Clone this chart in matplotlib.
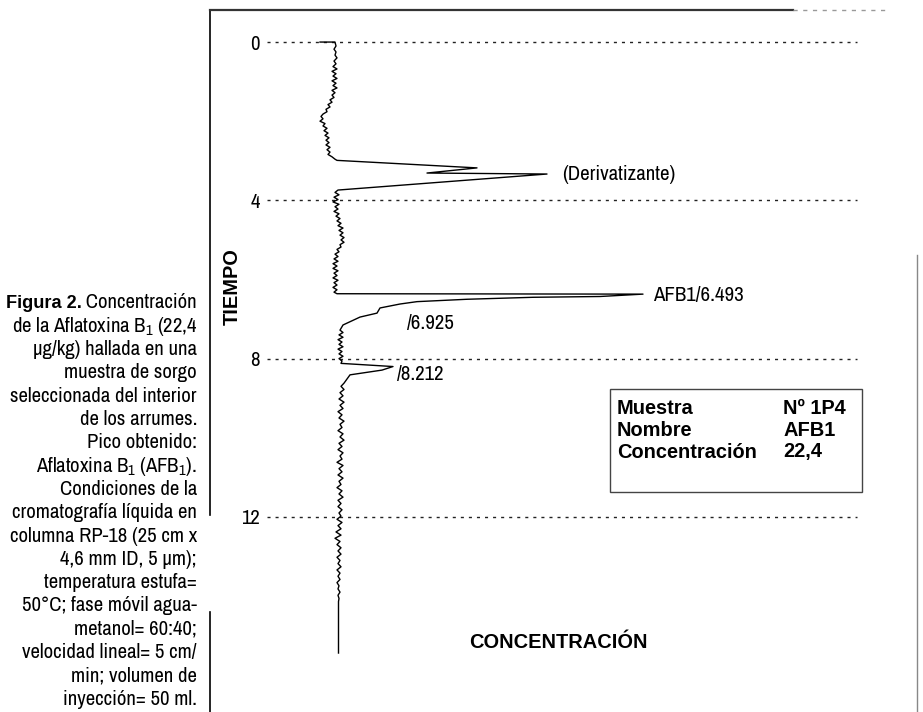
import matplotlib
matplotlib.use('Agg')
import matplotlib.pyplot as plt
from matplotlib import font_manager
from matplotlib.patches import Rectangle

# buscar una fuente estrecha entre las instaladas
fuentes = font_manager.fontManager.ttflist
nombres = {f.name for f in fuentes}
estrecha = [n for n in sorted(nombres) if 'Narrow' in n or 'Condensed' in n]
estirar = 'normal'
if 'Liberation Sans Narrow' in nombres:
    fuente = 'Liberation Sans Narrow'
elif estrecha:
    fuente = estrecha[0]
elif any(f.name == 'DejaVu Sans' and f.stretch == 'condensed' for f in fuentes):
    fuente = 'DejaVu Sans'
    estirar = 'condensed'
elif 'Liberation Sans' in nombres:
    fuente = 'Liberation Sans'
else:
    fuente = 'DejaVu Sans'


def es_negrita(f):
    w = f.weight
    if isinstance(w, str):
        return w in ('bold', 'semibold', 'demibold', 'heavy', 'extra bold', 'black')
    return w >= 600


# la negrita: misma familia si la tiene, si no Liberation Sans
if any(f.name == fuente and es_negrita(f) for f in fuentes):
    fuente_negrita = fuente
elif 'Liberation Sans' in nombres:
    fuente_negrita = 'Liberation Sans'
else:
    fuente_negrita = 'DejaVu Sans'

plt.rcParams['font.family'] = [fuente, 'DejaVu Sans']
plt.rcParams['font.stretch'] = estirar
plt.rcParams['mathtext.fontset'] = 'custom'
plt.rcParams['mathtext.rm'] = fuente
plt.rcParams['mathtext.it'] = fuente

# datos del cromatograma (tiempo en min, señal en unidades arbitrarias)
tiempo = [
    0.00, 0.00, 0.10, 0.18, 0.25, 0.33, 0.40, 0.48, 0.55, 0.62, 0.68, 0.74,
    0.80, 0.86, 0.92, 0.98, 1.04, 1.10, 1.16, 1.22, 1.28, 1.34, 1.40, 1.46,
    1.52, 1.58, 1.64, 1.70, 1.76, 1.82, 1.88, 1.94, 2.00, 2.06, 2.12, 2.18,
    2.24, 2.30, 2.36, 2.42, 2.48, 2.54, 2.60, 2.66, 2.72, 2.78, 2.84, 2.90,
    2.96, 2.99,
    # derivatizante
    3.18, 3.31, 3.335, 3.74,
    3.80, 3.86, 3.92, 3.98, 4.04, 4.10, 4.16, 4.22, 4.28, 4.34, 4.40, 4.46,
    4.52, 4.58, 4.64, 4.70, 4.76, 4.82, 4.88, 4.94, 5.00, 5.06, 5.12, 5.18,
    5.24, 5.30, 5.36, 5.42, 5.48, 5.54, 5.60, 5.66, 5.72, 5.78, 5.84, 5.90,
    5.96, 6.02, 6.08, 6.14, 6.20, 6.26, 6.32, 6.36,
    # AFB1
    6.37, 6.43, 6.45, 6.50, 6.56, 6.62, 6.72, 6.85, 6.95, 7.15, 7.28,
    7.34, 7.40, 7.46, 7.52, 7.58, 7.64, 7.70, 7.76, 7.82, 7.88, 7.94, 8.00,
    8.06, 8.12,
    # pico 8.212
    8.20, 8.29, 8.41, 8.62,
    8.70, 8.78, 8.86, 8.94, 9.02, 9.10, 9.18, 9.26, 9.34, 9.42, 9.50, 9.58,
    9.66, 9.74, 9.82, 9.90, 9.98, 10.06, 10.14, 10.22, 10.30, 10.38, 10.46,
    10.54, 10.62, 10.70, 10.78, 10.86, 10.94, 11.02, 11.10, 11.18, 11.26,
    11.34, 11.42, 11.50, 11.58, 11.66, 11.74, 11.82, 11.90, 11.98, 12.06,
    12.14, 12.22, 12.30, 12.38, 12.46, 12.54, 12.62, 12.70, 12.78, 12.86,
    12.94, 13.02, 13.10, 13.18, 13.26, 13.34, 13.42, 13.50, 13.58, 13.66,
    13.74, 13.82, 13.90, 13.98, 14.06, 14.14, 15.44,
]
senal = [
    -1.5, 0.0, 0.1, -0.1, 0.1, 0.0, 0.2, -0.1, 0.1, -0.2, 0.2, -0.3,
    0.1, -0.2, 0.2, -0.3, 0.1, -0.2, 0.2, -0.3, 0.0, -0.3, -0.1, -0.5,
    -0.3, -0.7, -0.5, -0.9, -0.8, -1.2, -1.4, -1.2, -1.5, -1.0, -1.2, -0.8,
    -1.1, -0.7, -1.0, -0.6, -0.9, -0.6, -0.9, -0.5, -0.8, -0.5, -0.7, -0.3,
    0.0, 0.2,
    14.2, 9.2, 21.2, 0.3,
    0.0, 0.4, -0.1, 0.3, -0.2, 0.4, 0.0, 0.3, -0.1, 0.4, 0.1, 0.5,
    0.2, 0.6, 0.3, 0.8, 0.4, 0.8, 0.5, 0.9, 0.6, 0.9, 0.5, 0.6,
    0.2, 0.4, 0.0, 0.3, -0.1, 0.3, -0.2, 0.2, -0.2, 0.3, -0.1, 0.2,
    -0.2, 0.3, -0.1, 0.2, -0.2, 0.2, -0.1, 0.2,
    30.8, 26.5, 19.8, 13.2, 8.2, 6.5, 4.5, 4.2, 2.5, 0.8, 0.5,
    0.8, 0.4, 0.8, 0.3, 0.7, 0.4, 0.8, 0.3, 0.7, 0.4, 0.8, 0.4,
    0.7, 0.6,
    5.8, 4.7, 1.5, 0.9,
    0.6, 0.9, 0.5, 0.8, 0.4, 0.9, 0.5, 0.8, 0.3, 0.7, 0.4, 0.9,
    0.5, 0.7, 0.3, 0.8, 0.5, 0.9, 0.4, 0.7, 0.3, 0.8, 0.5,
    0.7, 0.2, 0.8, 0.4, 0.7, 0.3, 0.8, 0.4, 0.6, 0.2,
    0.7, 0.4, 0.8, 0.3, 0.6, 0.3, 0.7, 0.4, 0.6, 0.2,
    0.7, 0.3, 0.6, 0.1, 0.6, 0.0, 0.5, 0.2, 0.6, 0.3,
    0.6, 0.2, 0.5, 0.3, 0.6, 0.2, 0.5, 0.3, 0.5, 0.2,
    0.4, 0.3, 0.5, 0.3, 0.4, 0.35, 0.35,
]

ticks_tiempo = [0, 4, 8, 12]
etiquetas_tiempo = ['0', '4', '8', '12']

picos = ['(Derivatizante)', 'AFB1/6.493', '/6.925', '/8.212']
picos_t = [3.335, 6.40, 7.10, 8.39]
picos_s = [22.7, 31.8, 7.2, 6.2]

tabla_campos = ['Muestra', 'Nombre', 'Concentración']
tabla_valores = ['Nº 1P4', 'AFB1', '22,4']

leyenda = [
    'de la Aflatoxina B$_1$ (22,4',
    'µg/kg) hallada en una',
    'muestra de sorgo',
    'seleccionada del interior',
    'de los arrumes.',
    'Pico obtenido:',
    'Aflatoxina B$_1$ (AFB$_1$).',
    'Condiciones de la',
    'cromatografía líquida en',
    'columna RP-18 (25 cm x',
    '4,6 mm ID, 5 µm);',
    'temperatura estufa=',
    '50°C; fase móvil agua-',
    'metanol= 60:40;',
    'velocidad lineal= 5 cm/',
    'min; volumen de',
    'inyección= 50 ml.',
]

W, H = 923, 712


def fx(x):
    return x / W


def fy(y):
    return 1 - y / H


fig = plt.figure(figsize=(9.23, 7.12), dpi=100)
r = fig.canvas.get_renderer()


def tam(texto, ancho, **kw):
    # tamaño de letra para que el texto ocupe el ancho medido en la imagen
    t = fig.text(0, 0, texto, fontsize=10, **kw)
    w = t.get_window_extent(renderer=r).width
    t.remove()
    return 10 * ancho / w


negrita = dict(family=[fuente_negrita, 'DejaVu Sans'], fontweight='bold')

fs_texto = min(15, tam('seleccionada del interior', 187))
fs_pico = min(15, tam('(Derivatizante)', 122))
fs_negrita = min(15, tam('Concentración', 140, **negrita))
fs_fig = min(15, tam('Figura 2.', 76, **negrita))

ax = fig.add_axes([fx(210), 0, fx(917) - fx(210), fy(10)])
ax.set_xlim(-12.5, 58.2)
ax.set_ylim(16.93, -0.81)
for s in ax.spines.values():
    s.set_visible(False)
ax.set_xticks([])
ax.set_yticks(ticks_tiempo)
ax.set_yticklabels(etiquetas_tiempo, fontsize=fs_texto)
ax.tick_params(axis='y', length=0, pad=-36)

ax.hlines(ticks_tiempo, 0.0806, 0.915, transform=ax.get_yaxis_transform(),
          colors='#222222', lw=1.0, linestyles=(0, (2.2, 3.6)))

ax.plot(senal, tiempo, color='black', lw=1.0)

for txt, t, s in zip(picos, picos_t, picos_s):
    ax.text(s, t, txt, fontsize=fs_pico, ha='left', va='center')

# marco
ax.plot([0, 0], [1, 0.2806], transform=ax.transAxes, color='black', lw=1.2, clip_on=False)
ax.plot([0, 0], [0.1425, 0], transform=ax.transAxes, color='black', lw=1.2, clip_on=False)
ax.plot([0, 0.8246], [1, 1], transform=ax.transAxes, color='#333333', lw=1.6, clip_on=False)
ax.plot([0.8246, 0.962], [1, 1], transform=ax.transAxes, color='#999999', lw=1.0,
        linestyle=(0, (3, 4)), clip_on=False)
ax.plot([1, 1], [0.651, 0], transform=ax.transAxes, color='#888888', lw=1.0, clip_on=False)

# tabla
ax.add_patch(Rectangle((0.566, 0.3134), 0.356, 0.1467, transform=ax.transAxes,
                       fill=False, edgecolor='#444444', lw=1.0))
for i, (c, v) in enumerate(zip(tabla_campos, tabla_valores)):
    y = fy(409 + 21.5 * i)
    fig.text(fx(617), y, c, fontsize=fs_negrita, va='center', **negrita)
    fig.text(fx(783), y, v, fontsize=fs_negrita, va='center', **negrita)

fig.text(fx(232), fy(287), 'TIEMPO', rotation=90, fontsize=fs_negrita,
         ha='center', va='center', **negrita)
fig.text(fx(558), fy(642), 'CONCENTRACIÓN', fontsize=fs_negrita,
         ha='center', va='center', **negrita)

# leyenda de la figura
t0 = fig.text(fx(197), fy(303), ' Concentración', fontsize=fs_texto, ha='right', va='center')
ancho = t0.get_window_extent(renderer=r).width
fig.text(fx(197 - ancho), fy(303), 'Figura 2.', fontsize=fs_fig,
         ha='right', va='center', **negrita)
for i, linea in enumerate(leyenda):
    fig.text(fx(197), fy(303 + 23.3 * (i + 1)), linea, fontsize=fs_texto,
             ha='right', va='center')

fig.savefig('out.png', dpi=100)
